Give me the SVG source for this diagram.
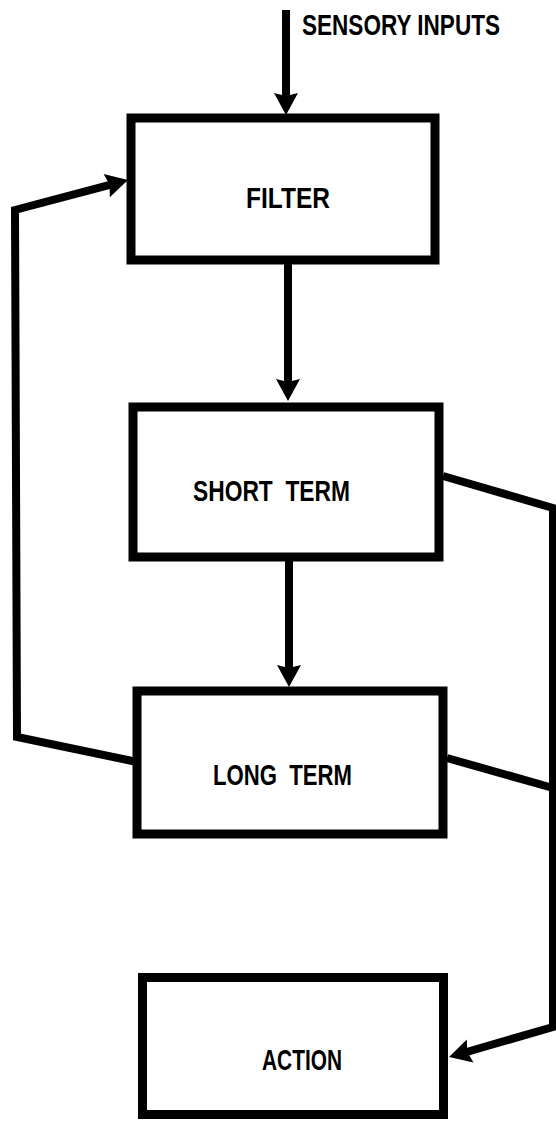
<svg xmlns="http://www.w3.org/2000/svg" width="556" height="1122" viewBox="0 0 556 1122">
<style>
.box{fill:#fff;stroke:#000;stroke-width:9;stroke-linejoin:miter}
.lbl{font-family:"Liberation Sans",Arial,sans-serif;font-weight:bold;font-size:24px;fill:#000}
.con{fill:none;stroke:#000;stroke-width:8;stroke-linejoin:miter}
</style>
<defs>
<marker id="ah" markerUnits="userSpaceOnUse" markerWidth="26" markerHeight="26" refX="9" refY="12" orient="auto" overflow="visible">
<path d="M0,0 L22,12 L0,24 L3,12 z" fill="#000"/>
</marker>
</defs>
<rect width="556" height="1122" fill="#fff"/>
<g id="connectors">
<path class="con" d="M286,10 L286,102" marker-end="url(#ah)"/>
<path class="con" d="M288,264 L288,388" marker-end="url(#ah)"/>
<path class="con" d="M289,560 L289,674" marker-end="url(#ah)"/>
<path class="con" d="M137,762 L17,737 L15,210 L115.4,183.3" marker-end="url(#ah)"/>
<path class="con" d="M443,476 L553,508 L553,1027 L461.5,1053.5" marker-end="url(#ah)"/>
<path class="con" d="M447,758 L553,788"/>
</g>
<g id="sensory-inputs">
<text class="lbl" transform="translate(302,35) scale(1,1.22)" textLength="198" lengthAdjust="spacingAndGlyphs">SENSORY INPUTS</text>
</g>
<g id="filter">
<rect class="box" x="131" y="118" width="304" height="142"/>
<text class="lbl" transform="translate(246,208) scale(1,1.22)" textLength="84" lengthAdjust="spacingAndGlyphs">FILTER</text>
</g>
<g id="short-term">
<rect class="box" x="133" y="407" width="306" height="150"/>
<text class="lbl" transform="translate(193,501) scale(1,1.22)" textLength="157" lengthAdjust="spacingAndGlyphs" xml:space="preserve">SHORT  TERM</text>
</g>
<g id="long-term">
<rect class="box" x="137" y="691" width="306" height="143"/>
<text class="lbl" transform="translate(213,785) scale(1,1.22)" textLength="139" lengthAdjust="spacingAndGlyphs" xml:space="preserve">LONG  TERM</text>
</g>
<g id="action">
<rect class="box" x="142.5" y="977.5" width="301" height="137"/>
<text class="lbl" transform="translate(262,1070) scale(1,1.22)" textLength="80" lengthAdjust="spacingAndGlyphs">ACTION</text>
</g>
</svg>
